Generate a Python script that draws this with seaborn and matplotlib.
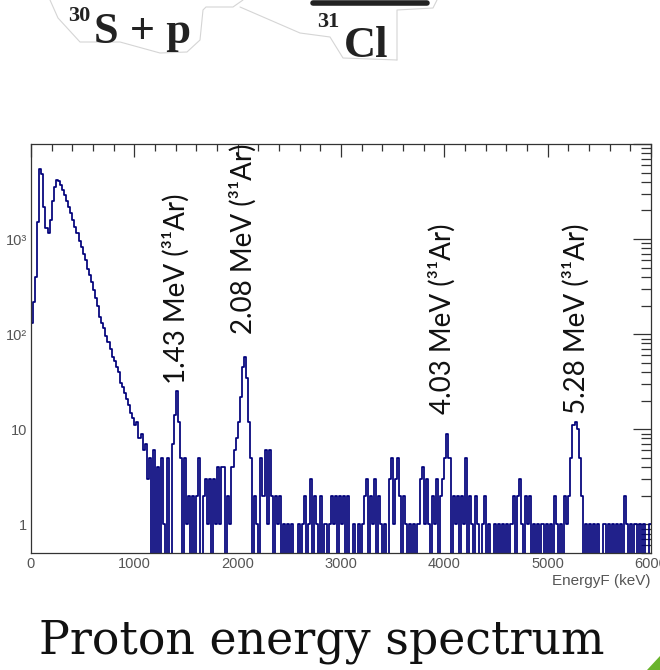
import numpy as np
import pandas as pd
import matplotlib
matplotlib.use("Agg")
import matplotlib.pyplot as plt
import matplotlib.ticker as mticker
from matplotlib.lines import Line2D
from matplotlib.patches import Polygon
import seaborn as sns

# Histogram of proton energies, 20 keV bins from 0 to 6000 keV
bin_width = 20
counts_0_1000 = [130, 220, 400, 1500, 5400, 4800, 2200, 1300, 1150, 1600,
                 2500, 3500, 4200, 4100, 3700, 3300, 2900, 2500, 2200, 1900,
                 1600, 1350, 1150, 950, 820, 700, 600, 480, 420, 350,
                 290, 240, 200, 150, 130, 115, 95, 82, 70, 58,
                 52, 45, 40, 31, 28, 24, 21, 18, 15, 13]
counts_1000_2000 = [11, 12, 8, 9, 6, 7, 3, 5, 0, 6,
                    0, 4, 0, 5, 1, 0, 5, 0, 7, 14,
                    25, 12, 5, 0, 5, 1, 2, 0, 2, 0,
                    2, 5, 0, 2, 3, 1, 3, 0, 3, 1,
                    4, 1, 4, 4, 0, 2, 1, 4, 6, 8]
counts_2000_3000 = [12, 22, 45, 58, 35, 12, 5, 0, 2, 1,
                    0, 5, 2, 6, 1, 6, 2, 0, 2, 1,
                    2, 0, 1, 0, 1, 0, 1, 0, 0, 1,
                    0, 1, 2, 0, 1, 3, 0, 2, 1, 0,
                    2, 0, 1, 0, 1, 2, 1, 2, 0, 2]
counts_3000_4000 = [1, 2, 0, 2, 0, 0, 1, 0, 1, 0,
                    1, 2, 3, 0, 2, 1, 3, 0, 2, 1,
                    0, 1, 0, 3, 5, 1, 3, 5, 2, 0,
                    2, 1, 0, 1, 0, 1, 0, 1, 3, 4,
                    1, 3, 1, 0, 2, 1, 3, 0, 2, 3]
counts_4000_5000 = [5, 9, 5, 0, 2, 1, 2, 0, 2, 1,
                    5, 0, 2, 1, 0, 2, 1, 0, 1, 2,
                    0, 1, 0, 0, 1, 0, 1, 0, 1, 0,
                    1, 0, 1, 2, 0, 2, 3, 1, 0, 2,
                    1, 2, 0, 1, 0, 1, 0, 1, 0, 1]
counts_5000_6000 = [0, 1, 0, 2, 1, 0, 1, 0, 2, 1,
                    2, 5, 11, 12, 10, 5, 2, 0, 1, 0,
                    1, 0, 1, 0, 1, 0, 0, 1, 0, 1,
                    0, 1, 0, 1, 0, 1, 0, 2, 1, 0,
                    1, 0, 1, 0, 1, 0, 1, 0, 0, 1]

peak_energies = [1405, 2055, 3975, 5280]
peak_label_base = [30, 100, 14.5, 14.5]
peak_labels = ["1.43 MeV (³¹Ar)", "2.08 MeV (³¹Ar)",
               "4.03 MeV (³¹Ar)", "5.28 MeV (³¹Ar)"]

counts = np.concatenate([counts_0_1000, counts_1000_2000, counts_2000_3000,
                         counts_3000_4000, counts_4000_5000, counts_5000_6000])
centers = np.arange(len(counts)) * bin_width + bin_width / 2
df = pd.DataFrame({"energy": centers, "counts": counts})

sns.set_style("white")
plt.rcParams["font.family"] = ["Liberation Sans", "DejaVu Sans"]

fig = plt.figure(figsize=(6.6, 6.7), dpi=100)
ax = fig.add_axes([31 / 660, 117 / 670, 620 / 660, 409 / 670])

line_color = "#00007a"
sns.histplot(data=df, x="energy", weights="counts", binwidth=bin_width,
             binrange=(0, 6000), element="step", fill=False, color=line_color,
             linewidth=1.25, ax=ax)
ax.set_yscale("log")
ax.set_xlim(0, 6000)
ax.set_ylim(0.5, 1.0e4)
ax.set_ylabel("")

# ROOT-like axes
ax.xaxis.set_major_locator(mticker.MultipleLocator(1000))
ax.xaxis.set_minor_locator(mticker.MultipleLocator(200))
ax.yaxis.set_major_locator(mticker.LogLocator(base=10, numticks=10))
ax.yaxis.set_minor_locator(mticker.LogLocator(base=10, subs=np.arange(2, 10), numticks=20))
ytick_text = {1: "1", 10: "10", 100: "10²", 1000: "10³"}
ax.yaxis.set_major_formatter(mticker.FuncFormatter(
    lambda v, p: ytick_text.get(int(round(v)), "")))
ax.yaxis.set_minor_formatter(mticker.NullFormatter())
ax.tick_params(axis="both", which="both", direction="in", top=True, right=True,
               colors="#333333", labelcolor="#555555", labelsize=10.5, width=0.9)
ax.tick_params(axis="x", which="major", length=9, pad=3)
ax.tick_params(axis="x", which="minor", length=5)
ax.tick_params(axis="y", which="major", length=13, pad=3)
ax.tick_params(axis="y", which="minor", length=7)
for s in ax.spines.values():
    s.set_color("#333333")
    s.set_linewidth(0.9)
ax.set_xlabel("EnergyF (keV)", loc="right", fontsize=11, color="#555555", labelpad=2)

for e, b, lab in zip(peak_energies, peak_label_base, peak_labels):
    ax.text(e, b, lab, rotation=90, ha="center", va="bottom", fontsize=20,
            family=["Lato", "DejaVu Sans"], color="#111111")

# caption
fig.text(322 / 660, 16 / 670, "Proton energy spectrum", ha="center", va="baseline",
         fontsize=33, family=["DejaVu Serif"], color="#111111")

# cropped reaction-scheme fragment at the top
serif = ["Liberation Serif", "DejaVu Serif"]
fig.text(68 / 660, 1 - 21 / 670, "30", fontsize=16, weight="bold", family=serif, color="#222222")
fig.text(94 / 660, 1 - 43 / 670, "S + p", fontsize=32, weight="bold", family=serif, color="#222222")
fig.text(317 / 660, 1 - 27 / 670, "31", fontsize=16, weight="bold", family=serif, color="#222222")
fig.text(344 / 660, 1 - 57 / 670, "Cl", fontsize=32, weight="bold", family=serif, color="#222222")
fig.add_artist(Line2D([313 / 660, 427 / 660], [1 - 3 / 670, 1 - 3 / 670],
                      transform=fig.transFigure, lw=4, color="#222222"))
outline = [[(50, 0), (58, 18), (80, 42), (120, 42), (160, 53), (187, 52), (200, 40),
            (203, 10), (206, 7), (233, 7), (243, 0)],
           [(240, 7), (300, 33), (330, 37), (343, 58), (397, 60)],
           [(397, 60), (397, 10), (433, 8), (437, 0)]]
for pts in outline:
    xs = [p[0] / 660 for p in pts]
    ys = [1 - p[1] / 670 for p in pts]
    fig.add_artist(Line2D(xs, ys, transform=fig.transFigure, lw=0.8, color="#d5d5d5"))

# green corner of the slide
fig.add_artist(Polygon([(647 / 660, 0), (1, 0), (1, 14 / 670)], closed=True,
                       transform=fig.transFigure, color="#6ab42d", lw=0))

fig.savefig("out.png", dpi=100)
plt.close(fig)
